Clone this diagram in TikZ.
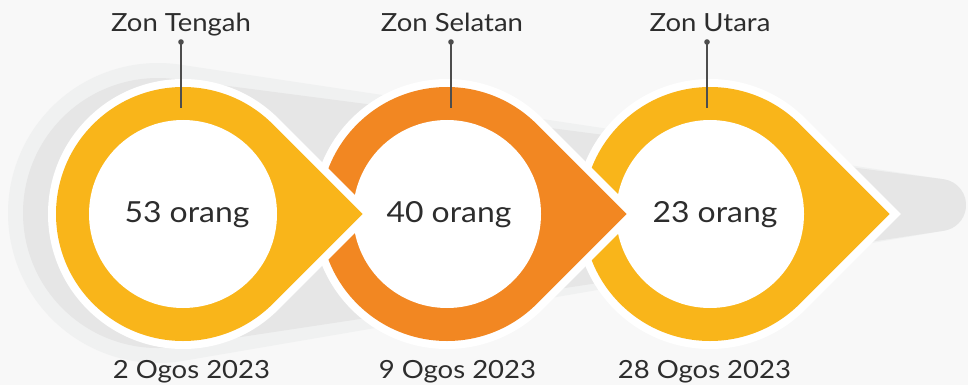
\documentclass[tikz,border=0pt]{standalone}
\usepackage{fontspec}
\setmainfont{Lato}[FakeStretch=1.1]
\usetikzlibrary{calc}

\definecolor{bgc}{RGB}{248,248,248}
\definecolor{halo}{RGB}{240,241,241}
\definecolor{band}{RGB}{230,230,230}
\definecolor{zyellow}{RGB}{249,181,26}
\definecolor{zorange}{RGB}{242,135,34}
\definecolor{ink}{RGB}{45,45,45}
\definecolor{stem}{RGB}{77,77,77}

% teardrop: circle of radius #2 round #1, pointed to the right
\newcommand{\tearpath}[2]{(#1) ++(45:#2) arc[start angle=45, end angle=315, radius=#2] -- ++(0.70711*#2,0.70711*#2) -- cycle}

\tikzset{
  every picture/.style={line width=0.75pt},
  zonlabel/.style={anchor=base, text=ink, font=\fontsize{25}{30}\selectfont},
  datelabel/.style={anchor=base, text=ink, font=\fontsize{25}{30}\selectfont},
  numlabel/.style={anchor=base, text=ink, font=\fontsize{29}{34}\selectfont},
  pinline/.style={draw=stem, line width=2pt},
}

\begin{document}
\begin{tikzpicture}[x=1pt,y=1pt,yscale=-1,xscale=1]
\useasboundingbox (0,0) rectangle (968,385);
\fill[bgc] (0,0) rectangle (968,385);

% centres
\coordinate (c1) at (183,214);
\coordinate (c2) at (447,214);
\coordinate (c3) at (710,214);
% back band: big end and small end
\coordinate (b0) at (158,213);
\coordinate (e0) at (940,205);

%Shape: soft halo
\fill[halo] (b0) ++(80.28:150) arc[start angle=80.28, end angle=278.54, radius=150] -- ($(e0)+(-81.46:26)$) arc[start angle=-81.46, end angle=80.28, radius=26] -- cycle;
%Shape: grey band
\fill[band] (b0) ++(81.40:135) arc[start angle=81.40, end angle=277.40, radius=135] -- ($(e0)+(-82.60:26)$) arc[start angle=-82.60, end angle=81.40, radius=26] -- cycle;

%Shape: third drop
\fill[white] \tearpath{c3}{135};
\fill[zyellow] \tearpath{c3}{127};
\fill[white] (c3) circle[radius=94];
%Shape: second drop
\fill[white] \tearpath{c2}{135};
\fill[zorange] \tearpath{c2}{127};
\fill[white] (c2) circle[radius=94];
%Shape: first drop
\fill[white] \tearpath{c1}{135};
\fill[zyellow] \tearpath{c1}{127};
\fill[white] (c1) circle[radius=94];

%Straight Lines: pins
\coordinate (pin1) at (181,42);
\coordinate (ring1) at (181,108);
\coordinate (pin2) at (451,42);
\coordinate (ring2) at (451,108);
\coordinate (pin3) at (707,42);
\coordinate (ring3) at (707,108);
\foreach \i in {1,2,3}{
  \draw[pinline] (pin\i) -- (ring\i);
  \fill[stem] (pin\i) circle[radius=2.8];
}

% Text Node
\node[zonlabel] (zon1) at (181,32) {Zon Tengah};
\node[zonlabel] (zon2) at (452,32) {Zon Selatan};
\node[zonlabel] (zon3) at (710,32) {Zon Utara};
% Text Node
\node[numlabel] (num1) at (187,222) {53 orang};
\node[numlabel] (num2) at (449,222) {40 orang};
\node[numlabel] (num3) at (715,222) {23 orang};
% Text Node
\node[datelabel] (date1) at (191.5,378) {2 Ogos 2023};
\node[datelabel] (date2) at (457.5,378) {9 Ogos 2023};
\node[datelabel] (date3) at (704.5,378) {28 Ogos 2023};
\end{tikzpicture}
\end{document}
